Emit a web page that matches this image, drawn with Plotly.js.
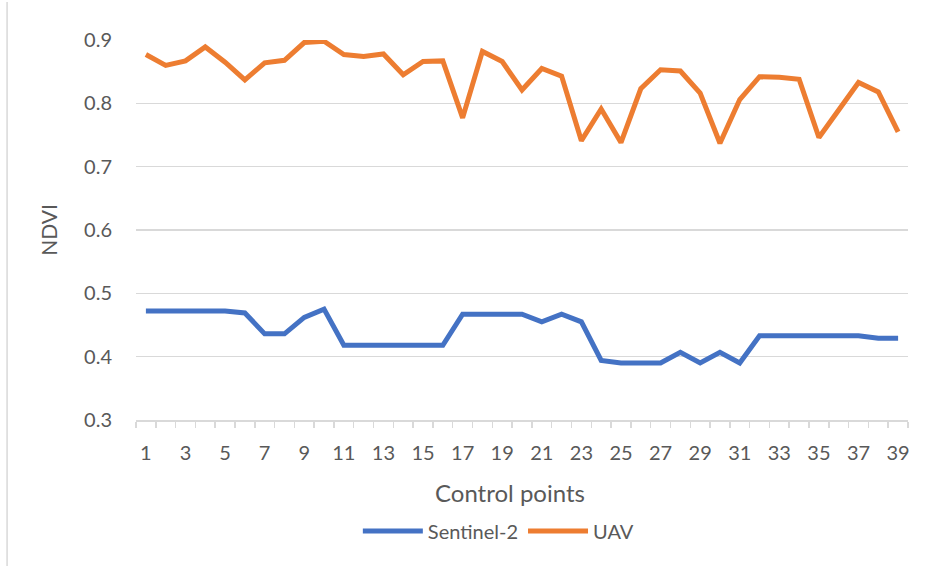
<!DOCTYPE html>
<html>
<head>
<meta charset="utf-8">
<script src="https://cdn.plot.ly/plotly-3.0.1.min.js"></script>
<style>html,body{margin:0;padding:0;background:#fff;}#chart{width:927px;height:566px;}</style>
</head>
<body>
<div id="chart"></div>
<script>
const controlPoints = Array.from({length: 39}, (_, i) => i + 1);
const sentinel2 = [0.472,0.472,0.472,0.472,0.472,0.469,0.436,0.436,0.462,0.475,
                   0.418,0.418,0.418,0.418,0.418,0.418,0.467,0.467,0.467,0.467,
                   0.455,0.467,0.455,0.394,0.390,0.390,0.390,0.407,0.390,0.407,
                   0.390,0.433,0.433,0.433,0.433,0.433,0.433,0.429,0.429];
const uav = [0.877,0.860,0.867,0.889,0.865,0.837,0.864,0.868,0.896,0.898,
             0.877,0.874,0.878,0.845,0.866,0.867,0.777,0.882,0.866,0.821,
             0.855,0.843,0.741,0.791,0.738,0.823,0.853,0.851,0.816,0.737,
             0.806,0.842,0.841,0.838,0.746,0.790,0.833,0.818,0.755];
const xTickVals = controlPoints.filter(v => v % 2 === 1);
const xTickText = xTickVals.map(String);
const yTickVals = [0.3, 0.4, 0.5, 0.6, 0.7, 0.8, 0.9];
const xTitle = 'Control points';
const yTitle = 'NDVI';

const fontFam = 'Lato, "Open Sans", sans-serif';
const gray = '#595959';

const traces = [
  {x: controlPoints, y: sentinel2, type: 'scatter', mode: 'lines', name: 'Sentinel-2',
   line: {color: '#4472C4', width: 5}},
  {x: controlPoints, y: uav, type: 'scatter', mode: 'lines', name: 'UAV',
   line: {color: '#ED7D31', width: 5}}
];

const layout = {
  width: 927, height: 566,
  margin: {l: 136, r: 19, t: 40, b: 146},
  paper_bgcolor: '#fff', plot_bgcolor: '#fff',
  font: {family: fontFam, color: gray, size: 20},
  showlegend: true,
  legend: {orientation: 'h', x: 0.47, xanchor: 'center', y: -0.292, yanchor: 'middle',
           font: {size: 20, color: gray}, itemwidth: 60},
  xaxis: {
    range: [0.5, 39.5], tickvals: xTickVals, ticktext: xTickText,
    ticks: '', showgrid: false, zeroline: false,
    showline: true, linecolor: '#d9d9d9', linewidth: 1.5,
    tickfont: {size: 20, color: gray}, ticklabelstandoff: 14,
    minor: {tick0: 0.5, dtick: 1, ticks: 'outside', ticklen: 6, tickcolor: '#d9d9d9', tickwidth: 1.5, showgrid: false}
  },
  yaxis: {
    range: [0.3, 0.9], tickvals: yTickVals, tickformat: '.1f',
    showgrid: true, gridcolor: '#d9d9d9', gridwidth: 1.5, zeroline: false,
    showline: false, ticks: '',
    tickfont: {size: 20, color: gray}, ticklabelstandoff: 23,
    title: {text: yTitle, font: {size: 21, color: gray}, standoff: 20}
  },
  annotations: [
    {text: xTitle, xref: 'paper', yref: 'paper', x: 0.4845, y: -0.192,
     xanchor: 'center', yanchor: 'middle', showarrow: false,
     font: {size: 24, color: gray, family: fontFam}}
  ],
  shapes: [
    {type: 'line', xref: 'paper', yref: 'paper', x0: -0.167, x1: -0.167, y0: -0.4, y1: 1.1,
     line: {color: '#d9d9d9', width: 1.5}}
  ]
};

Plotly.newPlot('chart', traces, layout, {staticPlot: true, displayModeBar: false});
</script>
</body>
</html>
